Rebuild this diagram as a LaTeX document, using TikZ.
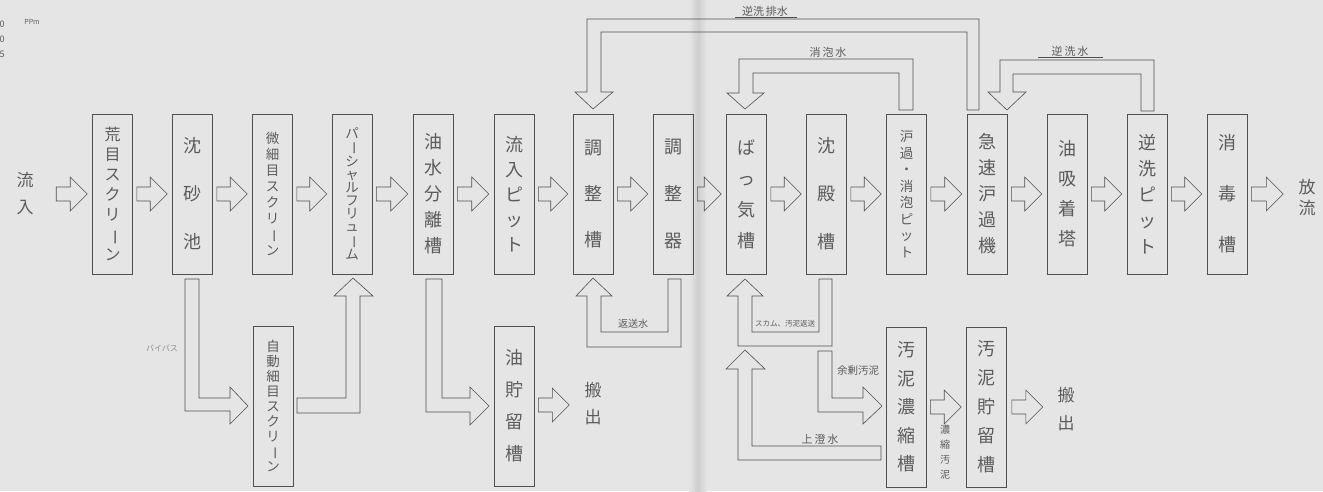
\documentclass[tikz,border=0pt]{standalone}
\usepackage{fontspec}
\usepackage{graphicx}
\newfontfamily\jp{Noto Sans CJK JP}
\usetikzlibrary{calc}
\definecolor{paper}{RGB}{229,229,229}
\definecolor{pencil}{RGB}{80,80,80}
\definecolor{ink}{RGB}{92,92,92}
\definecolor{fold}{RGB}{207,207,207}
\newcommand\vb{\rotatebox[origin=c]{-90}{ー}}
\tikzset{
  boxbase/.style={draw=pencil, line width=0.6pt, minimum width=40pt, minimum height=160pt,
    inner sep=0pt, align=center, text=ink},
  box/.style={boxbase, font=\jp\fontsize{18}{#1}\selectfont},
  mbox/.style={boxbase, font=\jp\fontsize{16}{#1}\selectfont},
  sbox/.style={boxbase, font=\jp\fontsize{13.5}{#1}\selectfont},
  arr/.style={draw=pencil, line width=0.6pt, line join=miter},
  lbl/.style={text=ink, inner sep=0pt, align=center, font=\jp\fontsize{#1}{#1}\selectfont},
}
\newcommand\barrow[2]{%
  \draw[arr] let \p1=#1, \p2=#2 in
  (\x1,\y1+7pt) -- (\x2-17pt,\y1+7pt) -- (\x2-17pt,\y1+17pt) -- (\x2,\y1)
  -- (\x2-17pt,\y1-17pt) -- (\x2-17pt,\y1-7pt) -- (\x1,\y1-7pt) -- cycle;}
\begin{document}
\begin{tikzpicture}[x=1pt,y=-1pt]
\useasboundingbox (0,0) rectangle (1323,491);
\fill[paper] (0,0) rectangle (1323,491);
\shade[left color=paper, right color=fold] (689,0) rectangle (698,491);
\shade[left color=fold, right color=paper] (698,0) rectangle (707,491);

% scan remnants at top left
\node[lbl=7] (ppm) at (32,22) {PPm};
\node[lbl=9] (d1) at (2,24) {0};
\node[lbl=9] (d2) at (2,39) {0};
\node[lbl=9] (d3) at (2,54) {5};

% main row
\node[mbox=20] (b1) at (112.5,194) {荒\\目\\ス\\ク\\リ\\\vb\\ン};
\node[box=48] (b2) at (192.5,194) {沈\\砂\\池};
\node[sbox=16] (b3) at (272.5,194) {微\\細\\目\\ス\\ク\\リ\\\vb\\ン};
\node[sbox=13] (b4) at (352,194) {パ\\\vb\\シ\\ャ\\ル\\フ\\リ\\ュ\\\vb\\ム};
\node[box=26] (b5) at (433,194) {油\\水\\分\\離\\槽};
\node[box=25] (b6) at (514,194) {流\\入\\ピ\\ッ\\ト};
\node[box=46] (b7) at (593,194) {調\\整\\槽};
\node[box=47] (b8) at (673,194) {調\\整\\器};
\node[box=31] (b9) at (746.5,194) {ば\\っ\\気\\槽};
\node[box=48] (b10) at (826.5,194) {沈\\殿\\槽};
\node[sbox=16.5] (b11) at (906.5,194) {沪\\過\\・\\消\\泡\\ピ\\ッ\\ト};
\node[box=26] (b12) at (987,194) {急\\速\\沪\\過\\機};
\node[box=30] (b13) at (1067,194) {油\\吸\\着\\塔};
\node[box=26] (b14) at (1147,194) {逆\\洗\\ピ\\ッ\\ト};
\node[box=51] (b15) at (1227,194) {消\\毒\\槽};

\node[lbl=17, font=\jp\fontsize{17}{27}\selectfont] (in) at (25,194) {流\\入};
\node[lbl=17, font=\jp\fontsize{17}{21}\selectfont] (out) at (1307,198) {放\\流};

\barrow{($(b1.west)+(-36,0)$)}{($(b1.west)+(-5,0)$)}
\barrow{($(b1.east)+(4,0)$)}{($(b2.west)+(-5,0)$)}
\barrow{($(b2.east)+(4,0)$)}{($(b3.west)+(-5,0)$)}
\barrow{($(b3.east)+(4,0)$)}{($(b4.west)+(-5,0)$)}
\barrow{($(b4.east)+(4,0)$)}{($(b5.west)+(-5,0)$)}
\barrow{($(b5.east)+(4,0)$)}{($(b6.west)+(-5,0)$)}
\barrow{($(b6.east)+(4,0)$)}{($(b7.west)+(-5,0)$)}
\barrow{($(b7.east)+(4,0)$)}{($(b8.west)+(-5,0)$)}
\barrow{($(b8.east)+(4,0)$)}{($(b9.west)+(-5,0)$)}
\barrow{($(b9.east)+(4,0)$)}{($(b10.west)+(-5,0)$)}
\barrow{($(b10.east)+(4,0)$)}{($(b11.west)+(-5,0)$)}
\barrow{($(b11.east)+(4,0)$)}{($(b12.west)+(-5,0)$)}
\barrow{($(b12.east)+(4,0)$)}{($(b13.west)+(-5,0)$)}
\barrow{($(b13.east)+(4,0)$)}{($(b14.west)+(-5,0)$)}
\barrow{($(b14.east)+(4,0)$)}{($(b15.west)+(-5,0)$)}
\barrow{($(b15.east)+(4,0)$)}{($(b15.east)+(36,0)$)}

% lower boxes
\node[sbox=15] (a1) at (273,406) {自\\動\\細\\目\\ス\\ク\\リ\\\vb\\ン};
\node[box=32] (a2) at (514,406) {油\\貯\\留\\槽};
\node[box=28.5] (a3) at (906,407) {汚\\泥\\濃\\縮\\槽};
\node[box=29] (a4) at (986.5,407) {汚\\泥\\貯\\留\\槽};

\node[lbl=17, font=\jp\fontsize{17}{27}\selectfont] (out1) at (593,404) {搬\\出};
\node[lbl=17, font=\jp\fontsize{17}{28}\selectfont] (out2) at (1066,409) {搬\\出};

\barrow{($(a2.east)+(4,-1)$)}{($(a2.east)+(35,-1)$)}
\barrow{($(a3.east)+(4,0)$)}{($(a4.west)+(-5,0)$)}
\barrow{($(a4.east)+(5,0)$)}{($(a4.east)+(36,0)$)}

% bypass: sand basin -> automatic fine screen
\draw[arr] (185,279) -- (185,411) -- (230,411) -- (230,424) -- (248,406) -- (230,387)
  -- (230,398) -- (199,398) -- (199,279) -- cycle;
\node[lbl=8, text=ink!70] (bp) at (162,348) {バイパス};
% automatic screen -> partial flume
\draw[arr] (297,398) -- (346,398) -- (346,296) -- (334,296) -- (353,278) -- (373,296)
  -- (360,296) -- (360,413) -- (297,413) -- cycle;
% oil separator -> oil storage
\draw[arr] (426,279) -- (426,412) -- (470,412) -- (470,425) -- (489,406) -- (470,387)
  -- (470,398) -- (442,398) -- (442,279) -- cycle;
% return water: adjuster -> adjusting tank
\draw[arr] (681,279) -- (681,347) -- (587,347) -- (587,296) -- (576,296) -- (593,278)
  -- (612,296) -- (601,296) -- (601,332) -- (668,332) -- (668,279) -- cycle;
\node[lbl=10] (rw) at (633,324) {返送水};
% scum / sludge return
\draw[arr] (832,279) -- (832,346) -- (738,346) -- (738,296) -- (727,296) -- (745,279)
  -- (763,296) -- (752,296) -- (752,332) -- (819,332) -- (819,279) -- cycle;
\node[lbl=7.5] (sr) at (785,324) {スカム、汚泥返送};
% excess sludge
\draw[arr] (818,351) -- (818,412) -- (863,412) -- (863,424) -- (882,406) -- (863,387)
  -- (863,398) -- (832,398) -- (832,351) -- cycle;
\node[lbl=10.5] (es) at (858,371) {余剰汚泥};
% supernatant
\draw[arr] (881,446) -- (752,446) -- (752,369) -- (765,369) -- (745,350) -- (726,369)
  -- (738,369) -- (738,460) -- (881,460) -- cycle;
\node[lbl=11] (sn) at (820,439) {上\,澄\,水};
\node[lbl=10, font=\jp\fontsize{10}{15}\selectfont] (cs) at (945,452) {濃\\縮\\汚\\泥};

% top loops
\draw[arr] (979,110) -- (979,19) -- (587,19) -- (587,92) -- (575,92) -- (593,109)
  -- (613,92) -- (601,92) -- (601,32) -- (967,32) -- (967,110) -- cycle;
\node[lbl=11] (bw) at (765,11) {逆洗\,排水};
\draw[pencil, line width=0.5pt] (735,17) -- (797,17);
\draw[arr] (913,110) -- (913,59) -- (739,59) -- (739,93) -- (727,93) -- (745,109)
  -- (764,93) -- (753,93) -- (753,73) -- (899,73) -- (899,110) -- cycle;
\node[lbl=11] (af) at (828,52) {消\,泡\,水};
\draw[arr] (1154,111) -- (1154,60) -- (1000,60) -- (1000,92) -- (988,92) -- (1007,110)
  -- (1026,92) -- (1013,92) -- (1013,74) -- (1141,74) -- (1141,111) -- cycle;
\node[lbl=11] (bwt) at (1070,51) {逆\,洗\,水};
\draw[pencil, line width=0.5pt] (1038,57) -- (1103,57);
\end{tikzpicture}
\end{document}
